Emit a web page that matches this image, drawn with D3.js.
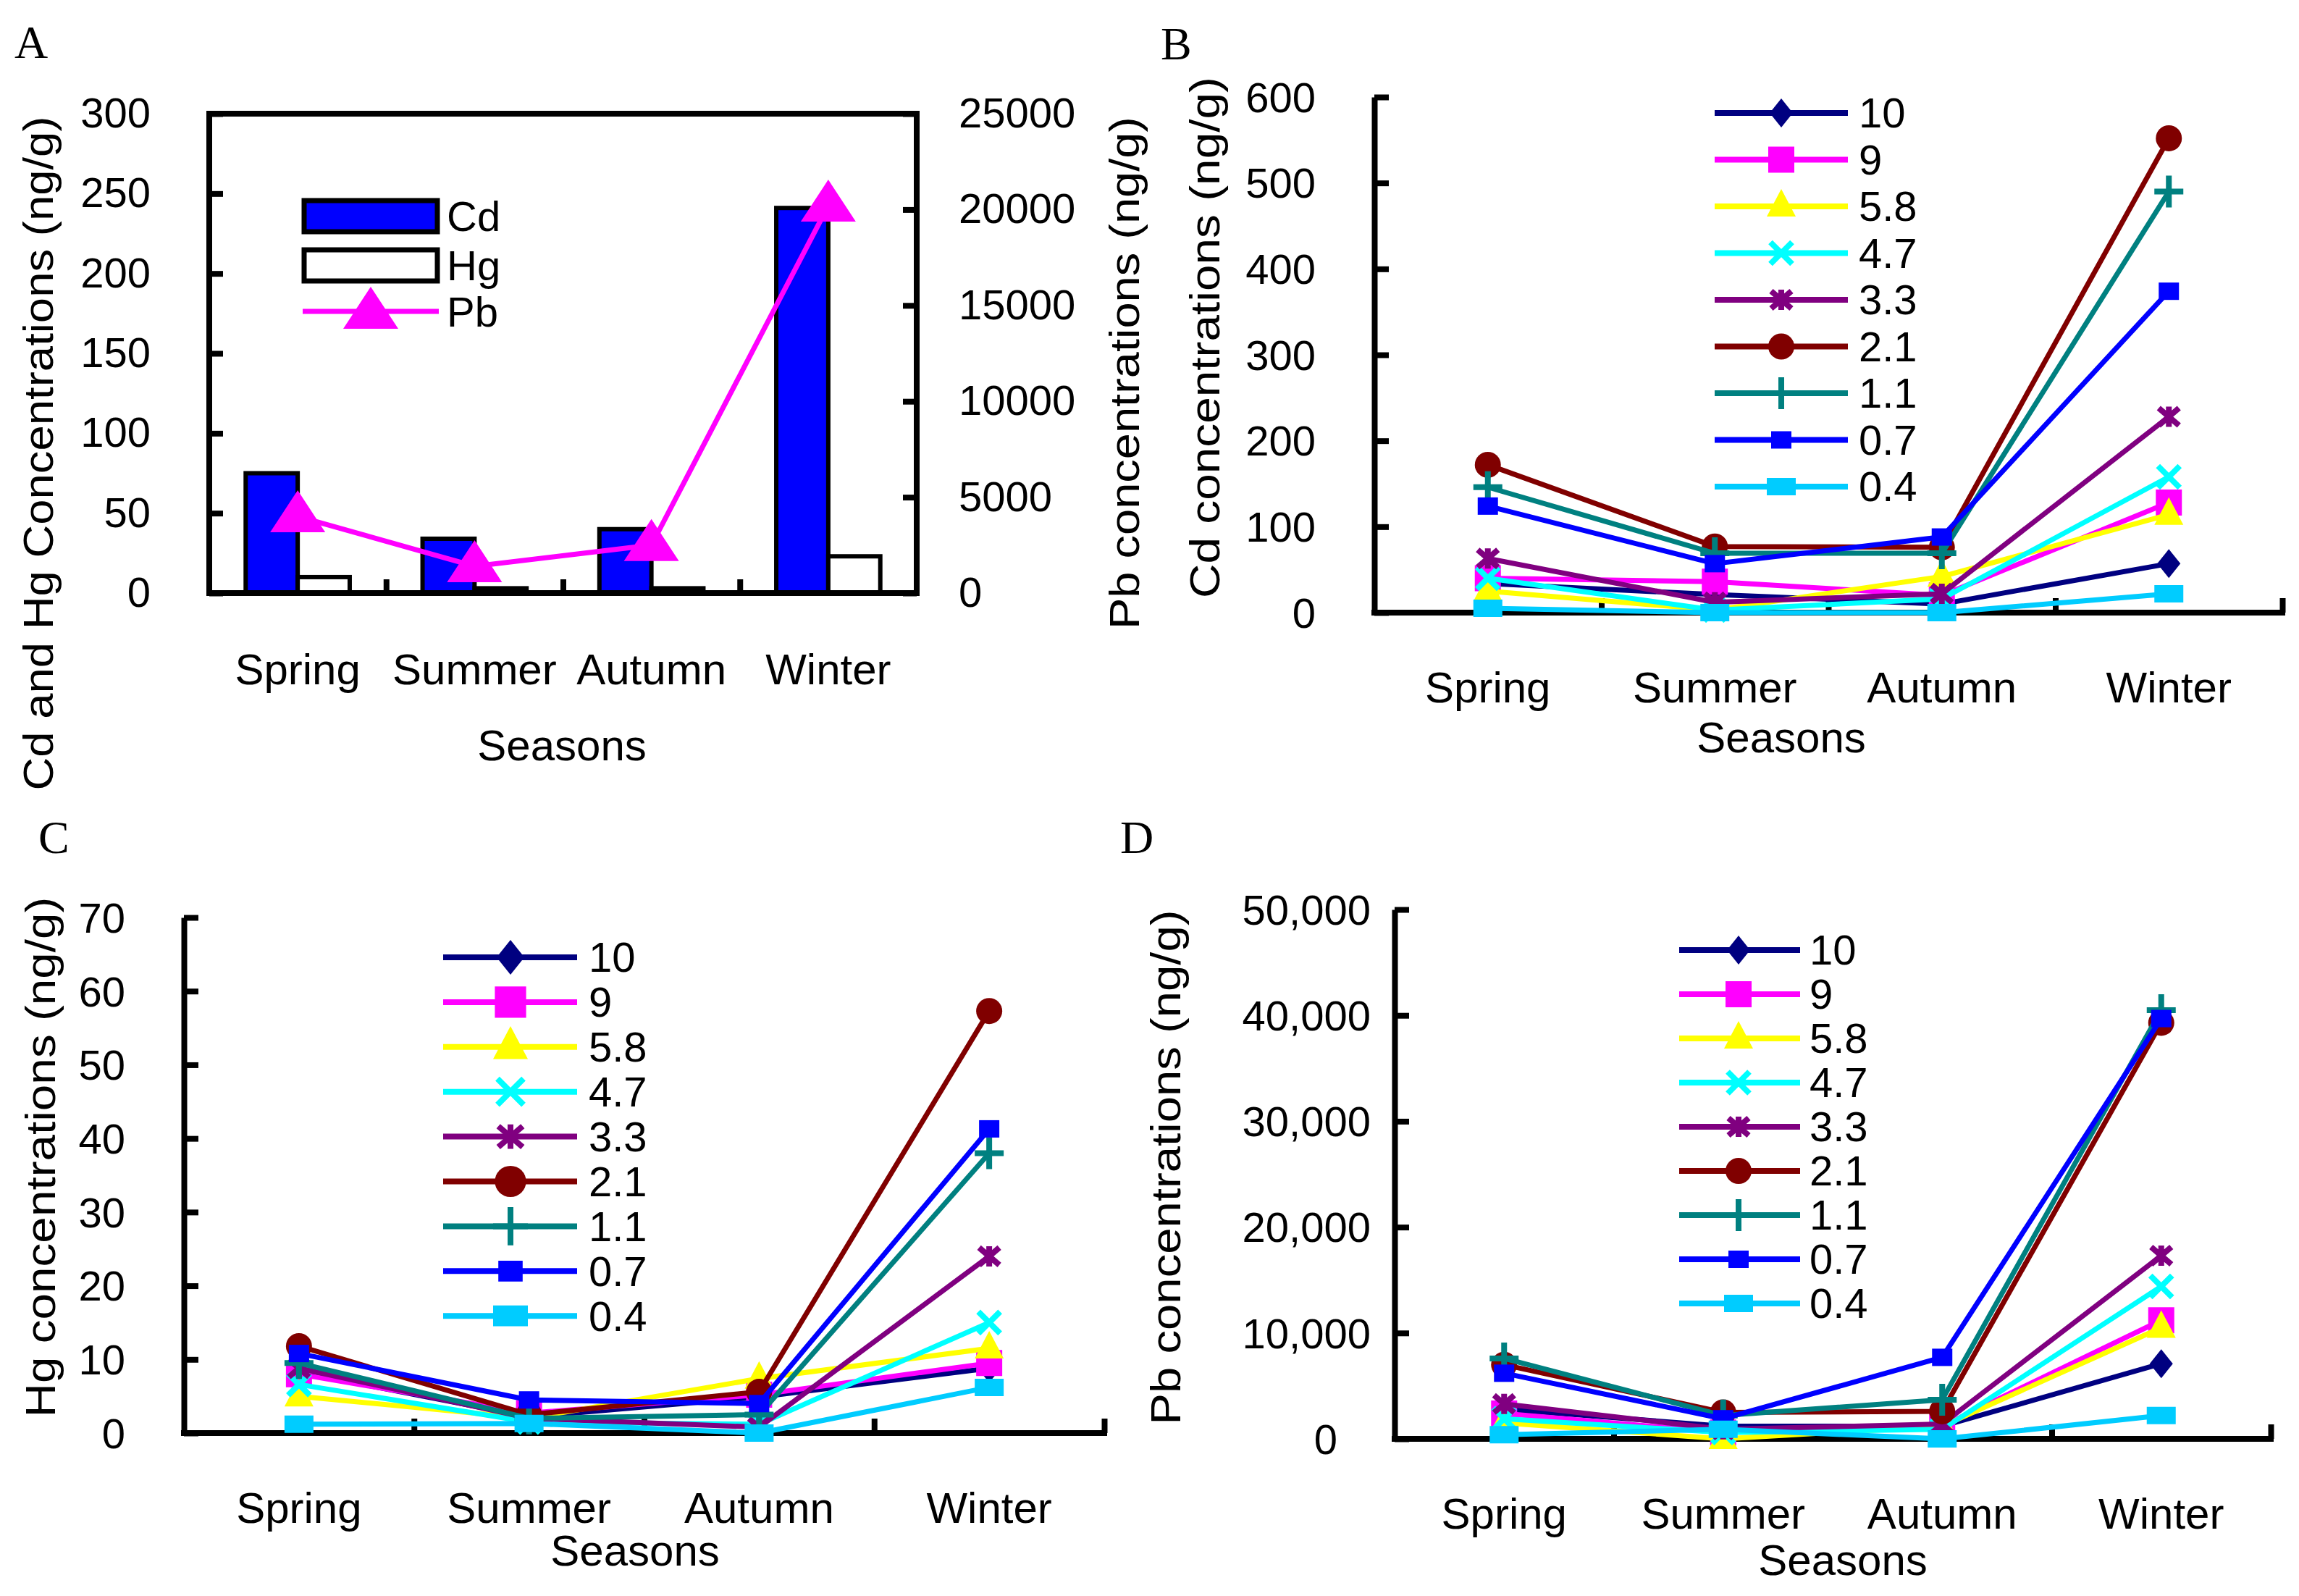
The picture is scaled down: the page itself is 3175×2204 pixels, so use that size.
<!DOCTYPE html>
<html>
<head>
  <meta charset="UTF-8">
  <title>Seasonal Cd, Hg and Pb concentrations</title>
  <style>
    body { margin:0; background:#fff; }
    svg { display:block; }
    text { font-family:"Liberation Sans", Arial, sans-serif; fill:#000; }
    .letter { font-family:"Liberation Serif", "Times New Roman", serif; font-size:64px; }
    .tick text { font-size:58px; font-family:"Liberation Sans", Arial, sans-serif; }
  </style>
</head>
<body>
<div id="chart"></div>
<script src="https://d3js.org/d3.v7.min.js"></script>
<script>
// ---- data ----
var seasons = ["Spring", "Summer", "Autumn", "Winter"];

// panel A: means over all size fractions
var cdMean = [75, 34, 40, 241];
var hgMean = [10, 3, 3, 23];
var pbMean = [4000, 1400, 2500, 20200];

// panels B-D: one row per particle size fraction, columns = seasons
var fractions = ["10", "9", "5.8", "4.7", "3.3", "2.1", "1.1", "0.7", "0.4"];

var cdByFraction = [
  [34, 21, 10, 57],
  [40, 36, 20, 128],
  [25, 3, 42, 114],
  [40, 3, 16, 158],
  [63, 12, 22, 228],
  [172, 77, 76, 552],
  [146, 69, 69, 490],
  [124, 57, 88, 374],
  [5, 0, 0, 22]
];

var hgByFraction = [
  [8.3, 2.2, 4.9, 8.8],
  [8, 2.7, 5.2, 9.5],
  [5, 2, 7.4, 11.5],
  [6.6, 1.5, 1.2, 15],
  [8.8, 2, 0.8, 24],
  [11.8, 2.5, 5.6, 57.3],
  [9.5, 2, 2.5, 38],
  [10.8, 4.5, 4, 41.3],
  [1.2, 1.3, 0, 6.2]
];

var pbByFraction = [
  [2800, 1200, 1200, 7100],
  [2400, 600, 1200, 11200],
  [1500, 0, 1200, 10500],
  [1900, 600, 900, 14400],
  [3300, 900, 1400, 17300],
  [7000, 2500, 2600, 39300],
  [7600, 2200, 3700, 40500],
  [6200, 1900, 7700, 39700],
  [400, 900, 0, 2200]
];

var cdTicks = [0, 50, 100, 150, 200, 250, 300];
var pbTicksA = [0, 5000, 10000, 15000, 20000, 25000];
var cdTicksB = [0, 100, 200, 300, 400, 500, 600];
var hgTicksC = [0, 10, 20, 30, 40, 50, 60, 70];
var pbTicksD = [0, 10000, 20000, 30000, 40000, 50000];

// ---- styles ----
var fracColors = ["#000080", "#ff00ff", "#ffff00", "#00ffff", "#800080", "#800000", "#008080", "#0000ff", "#00ccff"];
var fracShapes = ["diamond", "square", "triangle", "x", "star", "circle", "plus", "smallsquare", "rect"];

var svg = d3.select("#chart").append("svg")
  .attr("width", 3175)
  .attr("height", 2204);

function markerPath(shape, s) {
  switch (shape) {
    case "diamond": return "M0," + (-20*s) + "L" + (16*s) + ",0L0," + (20*s) + "L" + (-16*s) + ",0Z";
    case "square": return "M" + (-18*s) + "," + (-18*s) + "h" + (36*s) + "v" + (36*s) + "h" + (-36*s) + "Z";
    case "triangle": return "M0," + (-24*s) + "L" + (20*s) + "," + (14*s) + "L" + (-20*s) + "," + (14*s) + "Z";
    case "x": return "M" + (-15*s) + "," + (-15*s) + "L" + (15*s) + "," + (15*s) + "M" + (-15*s) + "," + (15*s) + "L" + (15*s) + "," + (-15*s);
    case "star": return "M" + (-14*s) + "," + (-12*s) + "L" + (14*s) + "," + (12*s) + "M" + (-14*s) + "," + (12*s) + "L" + (14*s) + "," + (-12*s) + "M0," + (-14*s) + "L0," + (14*s);
    case "circle": return d3.arc()({innerRadius: 0, outerRadius: 18*s, startAngle: 0, endAngle: 2*Math.PI});
    case "plus": return "M0," + (-22*s) + "L0," + (22*s) + "M" + (-20*s) + ",0L" + (20*s) + ",0";
    case "smallsquare": return "M" + (-14*s) + "," + (-12*s) + "h" + (28*s) + "v" + (24*s) + "h" + (-28*s) + "Z";
    case "rect": return "M" + (-20*s) + "," + (-12*s) + "h" + (40*s) + "v" + (24*s) + "h" + (-40*s) + "Z";
  }
}

function isStroked(shape) {
  return shape === "x" || shape === "star" || shape === "plus";
}

function drawMarker(g, shape, color, x, y, s) {
  var p = g.append("path")
    .attr("transform", "translate(" + x + "," + y + ")")
    .attr("d", markerPath(shape, s));
  if (isStroked(shape)) {
    p.attr("fill", "none").attr("stroke", color).attr("stroke-width", shape === "plus" ? 8 : 8);
  } else {
    p.attr("fill", color);
  }
}

function styleAxis(g) {
  g.select(".domain").attr("stroke", "#000").attr("stroke-width", 8);
  g.selectAll(".tick line").attr("stroke", "#000").attr("stroke-width", 8);
}

function rotatedTitle(label, cx, cy, len) {
  svg.append("text")
    .attr("transform", "translate(" + cx + "," + cy + ") rotate(-90)")
    .attr("text-anchor", "middle")
    .attr("dy", "0.35em")
    .attr("font-size", 58)
    .attr("textLength", len)
    .attr("lengthAdjust", "spacingAndGlyphs")
    .text(label);
}

function seasonLabels(x, baseline, seasonsX, seasonsBaseline) {
  svg.append("g").selectAll("text")
    .data(seasons)
    .join("text")
      .attr("x", function(d) { return x(d) + x.bandwidth() / 2; })
      .attr("y", baseline)
      .attr("text-anchor", "middle")
      .attr("font-size", 60)
      .text(function(d) { return d; });
  svg.append("text")
    .attr("x", seasonsX)
    .attr("y", seasonsBaseline)
    .attr("text-anchor", "middle")
    .attr("font-size", 60)
    .text("Seasons");
}

// ---------- panel A ----------
function chartA() {
  svg.append("text").attr("class", "letter").attr("x", 20).attr("y", 80).text("A");

  var left = 289, right = 1266, top = 157, bottom = 819;

  var x = d3.scaleBand().domain(seasons).range([left, right]);
  var x1 = d3.scaleBand().domain(["Cd", "Hg"]).range([0, x.bandwidth()]).paddingOuter(0.7);
  var y = d3.scaleLinear().domain([0, 300]).range([bottom, top]);
  var yPb = d3.scaleLinear().domain([0, 25000]).range([bottom, top]);

  var rows = seasons.map(function(s, i) { return {season: s, Cd: cdMean[i], Hg: hgMean[i], Pb: pbMean[i]}; });

  var groups = svg.append("g").selectAll("g")
    .data(rows)
    .join("g")
      .attr("transform", function(d) { return "translate(" + x(d.season) + ",0)"; });

  groups.selectAll("rect")
    .data(function(d) { return [{k: "Cd", v: d.Cd}, {k: "Hg", v: d.Hg}]; })
    .join("rect")
      .attr("x", function(d) { return x1(d.k); })
      .attr("width", x1.bandwidth())
      .attr("y", function(d) { return y(d.v); })
      .attr("height", function(d) { return y(0) - y(d.v); })
      .attr("fill", function(d) { return d.k === "Cd" ? "#0000ff" : "#fff"; })
      .attr("stroke", "#000")
      .attr("stroke-width", 6);

  // frame
  svg.append("rect")
    .attr("x", left).attr("y", top)
    .attr("width", right - left).attr("height", bottom - top)
    .attr("fill", "none").attr("stroke", "#000").attr("stroke-width", 8);

  var gl = svg.append("g").attr("transform", "translate(" + left + ",0)")
    .call(d3.axisLeft(y).tickValues(cdTicks).tickSize(-19).tickSizeOuter(0).tickPadding(81));
  styleAxis(gl);
  gl.select(".domain").remove();

  var gr = svg.append("g").attr("transform", "translate(" + right + ",0)")
    .call(d3.axisRight(yPb).tickValues(pbTicksA).tickSize(-19).tickSizeOuter(0).tickPadding(58).tickFormat(d3.format("d")));
  styleAxis(gr);
  gr.select(".domain").remove();

  // inner ticks at season boundaries
  var xb = d3.scaleLinear().domain([0, 4]).range([left, right]);
  var gb = svg.append("g").attr("transform", "translate(0," + bottom + ")")
    .call(d3.axisBottom(xb).tickValues([1, 2, 3]).tickSize(-19).tickSizeOuter(0).tickFormat(""));
  styleAxis(gb);
  gb.select(".domain").remove();

  // Pb line
  var linePb = d3.line()
    .x(function(d) { return x(d.season) + x.bandwidth() / 2; })
    .y(function(d) { return yPb(d.Pb); });

  svg.append("path")
    .datum(rows)
    .attr("fill", "none")
    .attr("stroke", "#ff00ff")
    .attr("stroke-width", 7)
    .attr("d", linePb);

  var tri = "M0,-36L38,22L-38,22Z";
  svg.append("g").selectAll("path")
    .data(rows)
    .join("path")
      .attr("transform", function(d) { return "translate(" + (x(d.season) + x.bandwidth() / 2) + "," + yPb(d.Pb) + ")"; })
      .attr("d", tri)
      .attr("fill", "#ff00ff");

  // legend
  var lg = svg.append("g");
  lg.append("rect").attr("x", 420).attr("y", 277).attr("width", 184).attr("height", 43)
    .attr("fill", "#0000ff").attr("stroke", "#000").attr("stroke-width", 7);
  lg.append("rect").attr("x", 420).attr("y", 345).attr("width", 184).attr("height", 43)
    .attr("fill", "#fff").attr("stroke", "#000").attr("stroke-width", 7);
  lg.append("line").attr("x1", 418).attr("x2", 606).attr("y1", 430).attr("y2", 430)
    .attr("stroke", "#ff00ff").attr("stroke-width", 7);
  lg.append("path").attr("transform", "translate(512,432)").attr("d", tri).attr("fill", "#ff00ff");
  lg.selectAll("text")
    .data([["Cd", 299], ["Hg", 367], ["Pb", 431]])
    .join("text")
      .attr("x", 617)
      .attr("y", function(d) { return d[1]; })
      .attr("dy", "0.35em")
      .attr("font-size", 58)
      .text(function(d) { return d[0]; });

  rotatedTitle("Cd and Hg Concentrations  (ng/g)", 53, 626, 931);
  rotatedTitle("Pb concentrations (ng/g)", 1553, 515, 708);
  seasonLabels(x, 945, 776, 1050);
}

// ---------- panels B, C, D ----------
function lineChart(cfg) {
  svg.append("text").attr("class", "letter").attr("x", cfg.letterX).attr("y", cfg.letterY).text(cfg.letter);

  var x = d3.scaleBand().domain(seasons).range([cfg.left, cfg.right]);
  var y = d3.scaleLinear().domain([0, cfg.max]).range([cfg.bottom, cfg.top]);
  var cx = function(s) { return x(s) + x.bandwidth() / 2; };

  var gy = svg.append("g").attr("transform", "translate(" + cfg.left + ",0)")
    .call(d3.axisLeft(y).tickValues(cfg.ticks).tickSize(-20).tickSizeOuter(0).tickPadding(cfg.pad).tickFormat(cfg.fmt));
  styleAxis(gy);
  gy.selectAll(".tick text").attr("dy", "0.35em");
  if (cfg.zeroShift) {
    gy.selectAll(".tick text").filter(function(d) { return d === 0; }).attr("dx", cfg.zeroShift);
  }

  var xb = d3.scaleLinear().domain([0, 4]).range([cfg.left, cfg.right]);
  var gx = svg.append("g").attr("transform", "translate(0," + cfg.bottom + ")")
    .call(d3.axisBottom(xb).tickValues([1, 2, 3, 4]).tickSize(-20).tickSizeOuter(0).tickFormat(""));
  styleAxis(gx);
  gx.select(".domain").attr("d", "M" + (cfg.left - 4) + ",0H" + (cfg.right + 4));

  var line = d3.line()
    .x(function(d) { return cx(d.season); })
    .y(function(d) { return y(d.value); });

  var plot = svg.append("g");
  cfg.values.forEach(function(vals, i) {
    var pts = seasons.map(function(s, j) { return {season: s, value: vals[j]}; });
    var g = plot.append("g");
    g.append("path")
      .datum(pts)
      .attr("fill", "none")
      .attr("stroke", fracColors[i])
      .attr("stroke-width", 7)
      .attr("stroke-linejoin", "round")
      .attr("d", line);
    pts.forEach(function(p) {
      drawMarker(g, fracShapes[i], fracColors[i], cx(p.season), y(p.value), cfg.mscale);
    });
  });

  // legend
  var lg = svg.append("g");
  fractions.forEach(function(f, i) {
    var ly = cfg.leg.y0 + i * cfg.leg.dy;
    lg.append("line")
      .attr("x1", cfg.leg.x0).attr("x2", cfg.leg.x1)
      .attr("y1", ly).attr("y2", ly)
      .attr("stroke", fracColors[i]).attr("stroke-width", 8);
    drawMarker(lg, fracShapes[i], fracColors[i], cfg.leg.mx, ly, cfg.lscale);
    lg.append("text")
      .attr("x", cfg.leg.tx).attr("y", ly)
      .attr("dy", "0.35em")
      .attr("font-size", 58)
      .text(f);
  });

  rotatedTitle(cfg.title, cfg.titleX, cfg.titleY, cfg.titleLen);
  seasonLabels(x, cfg.bottom + 124, cfg.seasonsX, cfg.seasonsY);
}

chartA();

lineChart({
  letter: "B", letterX: 1603, letterY: 82,
  left: 1898, right: 3152, top: 134, bottom: 846,
  max: 600, ticks: cdTicksB, pad: 81, fmt: d3.format("d"),
  values: cdByFraction, mscale: 1, lscale: 1,
  leg: {x0: 2368, x1: 2552, mx: 2460, tx: 2567, y0: 156, dy: 64.5},
  title: "Cd concentrations (ng/g)", titleX: 1664, titleY: 466, titleLen: 720,
  seasonsX: 2460, seasonsY: 1039
});

lineChart({
  letter: "C", letterX: 53, letterY: 1178,
  left: 254, right: 1525, top: 1267, bottom: 1979,
  max: 70, ticks: hgTicksC, pad: 81, fmt: d3.format("d"),
  values: hgByFraction, mscale: 1, lscale: 1.2,
  leg: {x0: 612, x1: 797, mx: 705, tx: 813, y0: 1322, dy: 61.9},
  title: "Hg concentrations (ng/g)", titleX: 56, titleY: 1598, titleLen: 719,
  seasonsX: 877, seasonsY: 2162
});

lineChart({
  letter: "D", letterX: 1547, letterY: 1178,
  left: 1926, right: 3136, top: 1256, bottom: 1987,
  max: 50000, ticks: pbTicksD, pad: 33, fmt: d3.format(","), zeroShift: -46,
  values: pbByFraction, mscale: 1, lscale: 1,
  leg: {x0: 2319, x1: 2486, mx: 2401, tx: 2499, y0: 1312, dy: 61},
  title: "Pb concentrations (ng/g)", titleX: 1610, titleY: 1612, titleLen: 711,
  seasonsX: 2545, seasonsY: 2175
});
</script>
</body>
</html>
